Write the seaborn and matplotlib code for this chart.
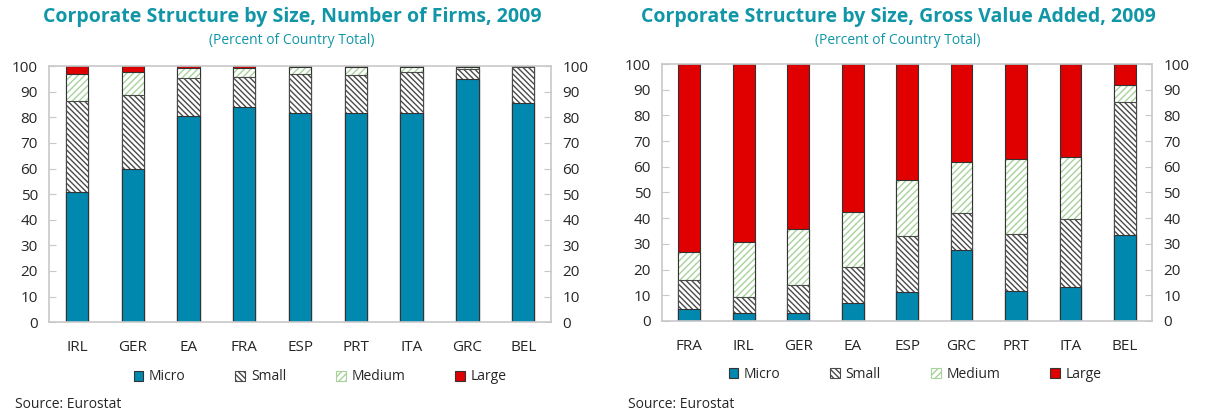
import numpy as np
import pandas as pd
import matplotlib
matplotlib.use("Agg")
import matplotlib.pyplot as plt
from matplotlib.patches import Patch
import seaborn as sns

# ===============================
# Data (percent of country total)
# ===============================
firms_countries = ["IRL", "GER", "EA", "FRA", "ESP", "PRT", "ITA", "GRC", "BEL"]
firms_micro = [51.0, 59.8, 80.6, 84.2, 81.8, 81.8, 81.8, 94.8, 85.7]
firms_small = [35.4, 28.8, 14.9, 11.7, 15.3, 14.9, 15.7, 3.9, 13.8]
firms_medium = [10.6, 9.2, 3.7, 3.2, 2.5, 2.8, 2.1, 0.9, 0.2]
firms_large = [3.0, 2.2, 0.8, 0.9, 0.4, 0.5, 0.4, 0.4, 0.3]

gva_countries = ["FRA", "IRL", "GER", "EA", "ESP", "GRC", "PRT", "ITA", "BEL"]
gva_micro = [4.8, 3.0, 3.0, 6.9, 11.1, 27.6, 11.6, 13.2, 33.5]
gva_small = [11.1, 6.2, 10.9, 14.1, 22.0, 14.5, 22.3, 26.5, 51.9]
gva_medium = [11.1, 21.4, 21.9, 21.3, 21.7, 19.6, 29.3, 24.1, 6.5]
gva_large = [73.0, 69.4, 64.2, 57.7, 45.2, 38.3, 36.8, 36.2, 8.1]

series = ["Micro", "Small", "Medium", "Large"]

# ===============================
# Style
# ===============================
sns.set_style("white")
plt.rcParams["font.family"] = ["Open Sans", "DejaVu Sans"]
plt.rcParams["hatch.linewidth"] = 1.0

TEAL_TITLE = "#1196A8"
MICRO = "#0088AE"
LARGE = "#E00000"
GREEN = "#A8D29C"
HATCH_DARK = "#4A4A4A"
EDGE = "#333333"
FRAME = "#C8C8C8"
W = 0.4
SMALL_HATCH = "\\" * 6
MED_HATCH = "/" * 5


def draw_panel(ax, countries, micro, small, medium, large):
    df = pd.DataFrame({"country": countries, "micro": micro, "small": small,
                       "medium": medium, "large": large})
    df["c_small"] = df["micro"] + df["small"]
    df["c_medium"] = df["c_small"] + df["medium"]
    df["c_large"] = df["c_medium"] + df["large"]

    common = dict(x="country", order=countries, ax=ax, width=W, saturation=1,
                  errorbar=None)
    # Large (top of the stack)
    sns.barplot(data=df, y="c_large", color=LARGE, edgecolor=EDGE, linewidth=0.8, **common)
    # Medium: green hatch, then dark outline
    sns.barplot(data=df, y="c_medium", color="white", edgecolor=GREEN, linewidth=0,
                hatch=MED_HATCH, **common)
    sns.barplot(data=df, y="c_medium", fill=False, edgecolor=EDGE, linewidth=0.8, **common)
    # Small: dark hatch
    sns.barplot(data=df, y="c_small", color="white", edgecolor=HATCH_DARK, linewidth=0.8,
                hatch=SMALL_HATCH, **common)
    # Micro
    sns.barplot(data=df, y="micro", color=MICRO, edgecolor=EDGE, linewidth=0.8, **common)

    ax.set_xlim(-0.5, len(countries) - 0.5)
    ax.set_ylim(0, 100)
    ax.set_yticks(np.arange(0, 101, 10))
    ax.set_xlabel("")
    ax.set_ylabel("")
    ax.tick_params(axis="y", which="major", direction="in", length=5, color=FRAME,
                   labelsize=11, left=True, right=True, labelleft=True, labelright=True,
                   pad=8)
    ax.tick_params(axis="x", which="major", length=0, labelsize=11, pad=13)
    ax.set_xticks(np.arange(-0.5, len(countries)), minor=True)
    ax.tick_params(axis="x", which="minor", direction="in", length=5, color=FRAME)
    for s in ax.spines.values():
        s.set_visible(True)
        s.set_color(FRAME)
        s.set_linewidth(1.2)


fig = plt.figure(figsize=(12.07, 4.13), dpi=100)
ax1 = fig.add_axes([0.0406, 0.220, 0.416, 0.620])
ax2 = fig.add_axes([0.5485, 0.223, 0.406, 0.622])

draw_panel(ax1, firms_countries, firms_micro, firms_small, firms_medium, firms_large)
draw_panel(ax2, gva_countries, gva_micro, gva_small, gva_medium, gva_large)

# titles
fig.text(292 / 1207, 1 - 17 / 413, "Corporate Structure by Size, Number of Firms, 2009",
         ha="center", va="center", fontsize=14, fontweight="bold", color=TEAL_TITLE)
fig.text(292 / 1207, 1 - 40 / 413, "(Percent of Country Total)",
         ha="center", va="center", fontsize=10, color=TEAL_TITLE)
fig.text(898 / 1207, 1 - 17 / 413, "Corporate Structure by Size, Gross Value Added, 2009",
         ha="center", va="center", fontsize=14, fontweight="bold", color=TEAL_TITLE)
fig.text(898 / 1207, 1 - 40 / 413, "(Percent of Country Total)",
         ha="center", va="center", fontsize=10, color=TEAL_TITLE)

# legends
handles = [
    Patch(facecolor=MICRO, edgecolor=EDGE, linewidth=0.8, label=series[0]),
    Patch(facecolor="white", edgecolor=HATCH_DARK, hatch=SMALL_HATCH, linewidth=0.8, label=series[1]),
    Patch(facecolor="white", edgecolor=GREEN, hatch=MED_HATCH, linewidth=0.8, label=series[2]),
    Patch(facecolor=LARGE, edgecolor=EDGE, linewidth=0.8, label=series[3]),
]
for cx, cy in [(320 / 1207, 1 - 377 / 413), (915 / 1207, 1 - 374 / 413)]:
    fig.legend(handles=handles, loc="center", bbox_to_anchor=(cx, cy), ncol=4,
               frameon=False, fontsize=10, handlelength=0.7, handleheight=0.7,
               handletextpad=0.4, columnspacing=3.6)

fig.text(15 / 1207, 1 - 405 / 413, "Source: Eurostat", ha="left", va="center", fontsize=10)
fig.text(628 / 1207, 1 - 404 / 413, "Source: Eurostat", ha="left", va="center", fontsize=10)

fig.savefig("out.png", dpi=100)
